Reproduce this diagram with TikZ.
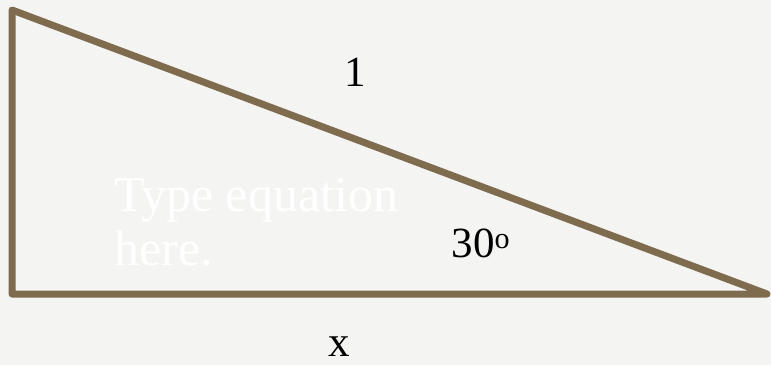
\documentclass[tikz,border=0pt]{standalone}
\usepackage{fontspec}
\setmainfont{Liberation Serif}
\usepackage{xcolor}
\definecolor{paper}{RGB}{244,244,243}
\definecolor{leg}{RGB}{127,107,77}

\begin{document}
\begin{tikzpicture}[
  x=1pt,y=-1pt,
  side/.style={draw=leg,line width=7pt,line join=round,line cap=round},
  lab/.style={inner sep=0pt,font=\fontsize{43}{48}\selectfont,text=black},
  ghost/.style={inner sep=0pt,align=left,font=\fontsize{50}{54}\selectfont,text=white}
]

% ---------------- page
\fill[paper] (0,0) rectangle (771,365);
\useasboundingbox (0,0) rectangle (771,365);

% ---------------- corners of the triangle
\coordinate (top) at (12,10);
\coordinate (rt) at (12,294);
\coordinate (tip) at (767,294);

\draw[side] (top) -- (rt) -- (tip) -- cycle;

% ---------------- labels
\node[lab] (hyp) at (355,72) {1};
\node[lab] (ang) at (481,243) {30\textsuperscript{o}};
\node[lab] (base) at (339,347) {x};
\node[ghost,anchor=north west] (eqn) at (114,178) {Type equation\\here.};
\end{tikzpicture}
\end{document}
